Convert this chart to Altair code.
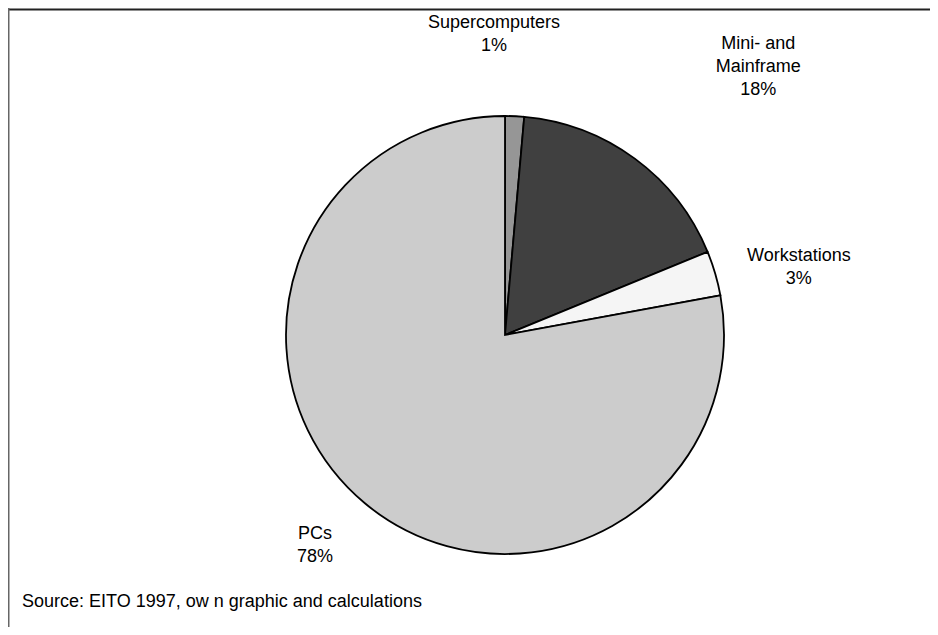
import altair as alt
import pandas as pd

categories = ["Supercomputers", "Mini- and Mainframe", "Workstations", "PCs"]
shares = [1.4, 17.4, 3.3, 77.9]
label_texts = ["Supercomputers\n1%", "Mini- and\nMainframe\n18%", "Workstations\n3%", "PCs\n78%"]
slice_order = [1, 2, 3, 4]
colors = ["#969696", "#404040", "#f5f5f5", "#cccccc"]
source_note = ["Source: EITO 1997, ow n graphic and calculations"]

df = pd.DataFrame({
    "category": categories,
    "share": shares,
    "label": label_texts,
    "order": slice_order,
})

FONT = "Liberation Sans"
FS = 18
CX, CY = 497, 327
R = 219

theta_scale = alt.Scale(domain=[0, 100])
color_scale = alt.Scale(domain=categories, range=colors)

base = alt.Chart(df)

pie = base.mark_arc(outerRadius=R, stroke="black", strokeWidth=1.8).encode(
    theta=alt.Theta("share:Q", stack=True, scale=theta_scale),
    color=alt.Color("category:N", scale=color_scale, legend=None),
    order=alt.Order("order:Q"),
    x=alt.value(CX),
    y=alt.value(CY),
)

lab_base = base.transform_window(
    cum="sum(share)", sort=[alt.SortField("order")]
).transform_calculate(mid="datum.cum - datum.share / 2")

offsets = {
    "Supercomputers": (-22, -62),
    "Mini- and Mainframe": (105, -90),
    "Workstations": (54, -8),
    "PCs": (-30, 7),
}

label_layers = []
for cat in categories:
    dx, dy = offsets[cat]
    label_layers.append(
        lab_base.transform_filter(alt.datum.category == cat)
        .mark_text(font=FONT, fontSize=FS, radius=250, dx=dx, dy=dy,
                   align="center", baseline="middle", lineBreak="\n",
                   lineHeight=23, color="black")
        .encode(
            theta=alt.Theta("mid:Q", scale=theta_scale),
            text="label:N",
            x=alt.value(CX),
            y=alt.value(CY),
        )
    )

frame_data = alt.Data(values=[{"k": 1}])
top_rule = alt.Chart(frame_data).mark_rule(color="#222222", strokeWidth=2).encode(
    x=alt.value(0), x2=alt.value(922), y=alt.value(1.5)
)
left_rule = alt.Chart(frame_data).mark_rule(color="#666666", strokeWidth=1.5).encode(
    x=alt.value(0.75), y=alt.value(0), y2=alt.value(619)
)

source = alt.Chart(pd.DataFrame({"t": source_note})).mark_text(
    font=FONT, fontSize=FS, align="left", baseline="middle", color="black"
).encode(text="t:N", x=alt.value(14), y=alt.value(594))

chart = alt.layer(pie, *label_layers, top_rule, left_rule, source).properties(
    width=922, height=619, autosize=alt.AutoSizeParams(type="none"), padding=0
).configure_view(stroke=None).resolve_scale(theta="shared")

chart.save("out.html", embed_options={"renderer": "svg", "actions": False})
